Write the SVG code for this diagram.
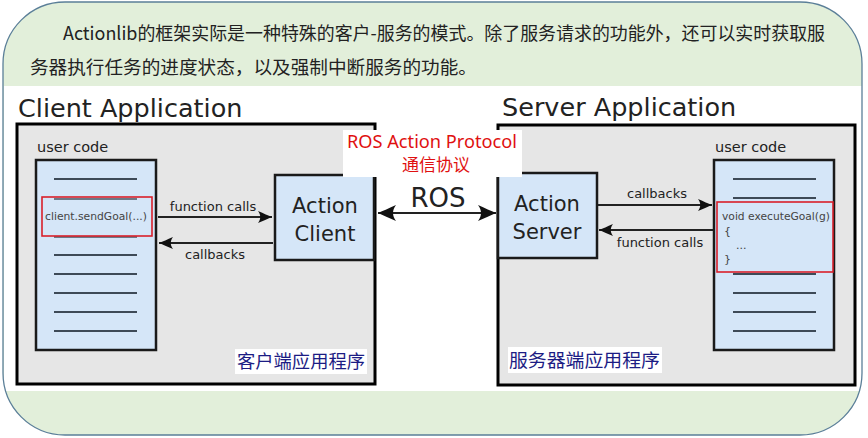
<svg xmlns="http://www.w3.org/2000/svg" width="868" height="438" viewBox="0 0 868 438">
<style>
.dj{font-family:"DejaVu Sans",sans-serif;fill:#222}
.cjk{font-family:"Noto Sans CJK SC",sans-serif}
.app{fill:#e6e6e6;stroke:#000;stroke-width:3}
.blue{fill:#d5e6f8;stroke:#1a1a1a;stroke-width:2.5}
.ln{stroke:#3e4a57;stroke-width:2}
.red{fill:none;stroke:#d9202a;stroke-width:1.6}
.con{stroke:#222;stroke-width:2;fill:none}
</style>
<defs>
<marker id="ab" viewBox="-20 -10 22 20" refX="0" refY="0" markerWidth="22" markerHeight="20" markerUnits="userSpaceOnUse" orient="auto-start-reverse">
<path d="M0,0 C-5,-2 -11,-5 -18,-8 C-14,-3 -14,3 -18,8 C-11,5 -5,2 0,0Z" fill="#111"/>
</marker>
<marker id="as" viewBox="-16 -8 18 16" refX="0" refY="0" markerWidth="18" markerHeight="16" markerUnits="userSpaceOnUse" orient="auto-start-reverse">
<path d="M0,0 C-4,-1.5 -8,-3.5 -14,-6 C-11,-2 -11,2 -14,6 C-8,3.5 -4,1.5 0,0Z" fill="#111"/>
</marker>
</defs>
<g id="background">
<rect x="3" y="2" width="859" height="433" rx="62" ry="62" fill="#e2efda"/>
<rect x="4" y="86" width="858" height="305" fill="#ffffff"/>
<rect x="3" y="2" width="859" height="433" rx="62" ry="62" fill="none" stroke="#5b7f98" stroke-width="1.3"/>
</g>
<g id="paragraph" class="cjk" fill="#222" font-size="18.5">
<text x="63" y="40" textLength="762" lengthAdjust="spacingAndGlyphs">Actionlib的框架实际是一种特殊的客户-服务的模式。除了服务请求的功能外，还可以实时获取服</text>
<text x="30" y="74" textLength="447" lengthAdjust="spacingAndGlyphs">务器执行任务的进度状态，以及强制中断服务的功能。</text>
</g>
<g id="client-app">
<text class="dj" x="18" y="117" font-size="25.5">Client Application</text>
<rect class="app" x="17" y="124" width="358" height="260"/>
</g>
<g id="client-user-code">
<text class="dj" x="37" y="152" font-size="14.5">user code</text>
<rect class="blue" x="36" y="160" width="120" height="190"/>
<path class="ln" d="M54,179H137M54,218H137M54,255H137M54,274H137M54,293H137M54,312H137M54,331H137"/>
<rect x="42" y="197" width="110" height="39" fill="#d5e6f8"/>
<path class="ln" d="M54,199H137M54,237H137" stroke-opacity="0.7"/>
<rect class="red" x="42" y="197" width="110" height="39"/>
<text class="dj" x="45" y="220" font-size="11" textLength="102" lengthAdjust="spacingAndGlyphs" style="fill:#444">client.sendGoal(...)</text>
</g>
<g id="action-client">
<rect class="blue" x="275" y="175" width="99" height="85"/>
<text class="dj" x="325" y="213" font-size="21" text-anchor="middle">Action</text>
<text class="dj" x="325" y="241" font-size="21" text-anchor="middle">Client</text>
</g>
<g id="server-app">
<text class="dj" x="502" y="116" font-size="25.5">Server Application</text>
<rect class="app" x="498" y="125" width="357" height="260"/>
</g>
<g id="action-server">
<rect class="blue" x="498" y="173" width="99" height="85"/>
<text class="dj" x="547" y="211" font-size="21" text-anchor="middle">Action</text>
<text class="dj" x="547" y="239" font-size="21" text-anchor="middle">Server</text>
</g>
<g id="server-user-code">
<text class="dj" x="715" y="152" font-size="14.5">user code</text>
<rect class="blue" x="714" y="160" width="120" height="190"/>
<path class="ln" d="M733,179H816M733,198H816M733,274H816M733,293H816M733,312H816M733,331H816"/>
<rect x="717" y="202" width="116" height="70" fill="#d5e6f8"/>
<rect class="red" x="717" y="202" width="116" height="70"/>
<g class="dj" font-size="11" style="fill:#444">
<text x="722" y="220" textLength="108" lengthAdjust="spacingAndGlyphs">void executeGoal(g)</text>
<text x="724" y="235">{</text>
<text x="736" y="249">...</text>
<text x="724" y="263">}</text>
</g>
</g>
<g id="protocol-label">
<rect x="343" y="130" width="179" height="47" fill="#ffffff"/>
<text x="432" y="148" font-family="'Noto Sans',sans-serif" font-size="18" fill="#e01010" text-anchor="middle" textLength="170" lengthAdjust="spacingAndGlyphs">ROS Action Protocol</text>
<text x="436" y="171" class="cjk" font-size="17" fill="#e01010" text-anchor="middle">通信协议</text>
</g>
<g id="connectors">
<line class="con" x1="378" y1="213" x2="496" y2="213" stroke-width="2.5" marker-start="url(#ab)" marker-end="url(#ab)"/>
<line class="con" x1="158" y1="217" x2="272" y2="217" marker-end="url(#as)"/>
<line class="con" x1="273" y1="243" x2="159" y2="243" marker-end="url(#as)"/>
<line class="con" x1="598" y1="205" x2="712" y2="205" marker-end="url(#as)"/>
<line class="con" x1="713" y1="230" x2="599" y2="230" marker-end="url(#as)"/>
<text class="dj" x="438" y="207" font-size="26" text-anchor="middle">ROS</text>
<text class="dj" x="213" y="211" font-size="13" text-anchor="middle">function calls</text>
<text class="dj" x="215" y="259" font-size="13" text-anchor="middle">callbacks</text>
<text class="dj" x="657" y="198" font-size="13" text-anchor="middle">callbacks</text>
<text class="dj" x="660" y="247" font-size="13" text-anchor="middle">function calls</text>
</g>
<g id="cn-labels">
<rect x="235" y="349" width="132" height="25" fill="#ffffff"/>
<text x="237" y="368" class="cjk" font-size="18" fill="#1c1c84" textLength="128" lengthAdjust="spacingAndGlyphs">客户端应用程序</text>
<rect x="508" y="347" width="154" height="26" fill="#ffffff"/>
<text x="509" y="367" class="cjk" font-size="18.5" fill="#1c1c84" textLength="151" lengthAdjust="spacingAndGlyphs">服务器端应用程序</text>
</g>
</svg>
